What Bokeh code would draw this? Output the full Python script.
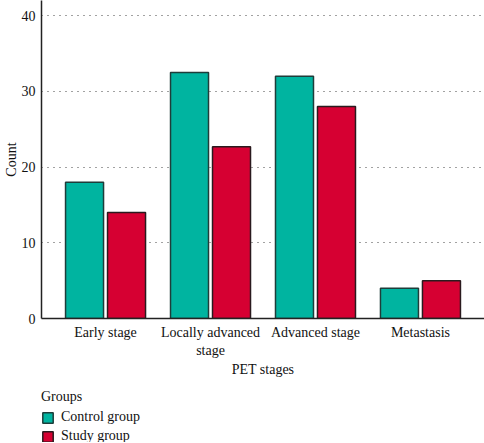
from bokeh.plotting import figure
from bokeh.models import FactorRange, Range1d, Legend, LegendItem, ColumnDataSource
from bokeh.layouts import column
from bokeh.transform import dodge
from bokeh.embed import file_html
from bokeh.resources import INLINE

categories = ["Early stage", "Locally advanced\nstage", "Advanced stage", "Metastasis"]
control_group = [18, 32.5, 32, 4]
study_group = [14, 22.7, 28, 5]
series_names = ["Control group", "Study group"]
y_ticks = [0, 10, 20, 30, 40]

FONT = "Liberation Serif"
TEAL = "#00b4a0"
RED = "#d60032"
EDGE1 = "#1e3d3a"
EDGE2 = "#2a1a1e"

src = ColumnDataSource(dict(cat=categories, control=control_group, study=study_group))

p = figure(x_range=FactorRange(*categories, range_padding=0.11, range_padding_units="absolute"),
           y_range=Range1d(0, 42),
           frame_width=443, frame_height=318,
           output_backend="svg", toolbar_location=None,
           min_border_left=41, min_border_right=0, min_border_top=0, min_border_bottom=0)
p.outline_line_color = None
p.background_fill_color = "white"

p.vbar(x=dodge("cat", -0.2, range=p.x_range), top="control", width=0.362, source=src,
       fill_color=TEAL, line_color=EDGE1, line_width=1.5)
p.vbar(x=dodge("cat", 0.2, range=p.x_range), top="study", width=0.362, source=src,
       fill_color=RED, line_color=EDGE2, line_width=1.5)

p.xgrid.grid_line_color = None
p.ygrid.grid_line_color = "#444444"
p.ygrid.grid_line_dash = "1 5"
p.ygrid.grid_line_width = 1.2
p.ygrid.ticker = y_ticks[1:]

p.yaxis.ticker = y_ticks
p.yaxis.axis_label = "Count"
p.xaxis.axis_label = "PET stages"
for ax in (p.xaxis, p.yaxis):
    ax.axis_line_color = "#222222"
    ax.axis_line_width = 1.5
    ax.major_tick_line_color = None
    ax.minor_tick_line_color = None
    ax.major_tick_out = 0
    ax.major_tick_in = 0
    ax.minor_tick_out = 0
    ax.minor_tick_in = 0
    ax.major_label_text_font = FONT
    ax.major_label_text_font_size = "14px"
    ax.major_label_text_color = "#111111"
    ax.axis_label_text_font = FONT
    ax.axis_label_text_font_size = "14px"
    ax.axis_label_text_font_style = "normal"
    ax.axis_label_text_color = "#111111"
p.yaxis.major_label_standoff = 6
p.yaxis.axis_label_standoff = 0
p.xaxis.major_label_standoff = 6
p.xaxis.axis_label_standoff = 1

# legend panel
p2 = figure(width=484, height=63, x_range=Range1d(0, 1), y_range=Range1d(0, 1),
            output_backend="svg", toolbar_location=None,
            min_border_left=38, min_border_right=0, min_border_top=10, min_border_bottom=0)
p2.axis.visible = False
p2.grid.visible = False
p2.outline_line_color = None
# zero-size key glyphs: they give the legend its swatches without drawing a mark
key_src = ColumnDataSource(dict(x=[0.7], top=[0.5], bottom=[0.5]))
l1 = p2.vbar(x="x", top="top", bottom="bottom", width=0, source=key_src,
             fill_color=TEAL, line_color=EDGE1, line_width=1.5)
l2 = p2.vbar(x="x", top="top", bottom="bottom", width=0, source=key_src,
             fill_color=RED, line_color=EDGE2, line_width=1.5)

legend = Legend(items=[LegendItem(label=series_names[0], renderers=[l1]),
                       LegendItem(label=series_names[1], renderers=[l2])],
                title="Groups", orientation="vertical", location="top_left",
                border_line_color=None, background_fill_alpha=0,
                label_text_font=FONT, label_text_font_size="14px", label_text_color="#111111",
                title_text_font=FONT, title_text_font_size="14px", title_text_font_style="normal",
                title_text_color="#111111",
                glyph_width=13, glyph_height=13, label_standoff=7, spacing=3,
                padding=0, margin=0, label_height=14, title_standoff=4)
p2.add_layout(legend, "center")

layout = column(p, p2, spacing=0)
open("out.html", "w").write(file_html(layout, INLINE))
